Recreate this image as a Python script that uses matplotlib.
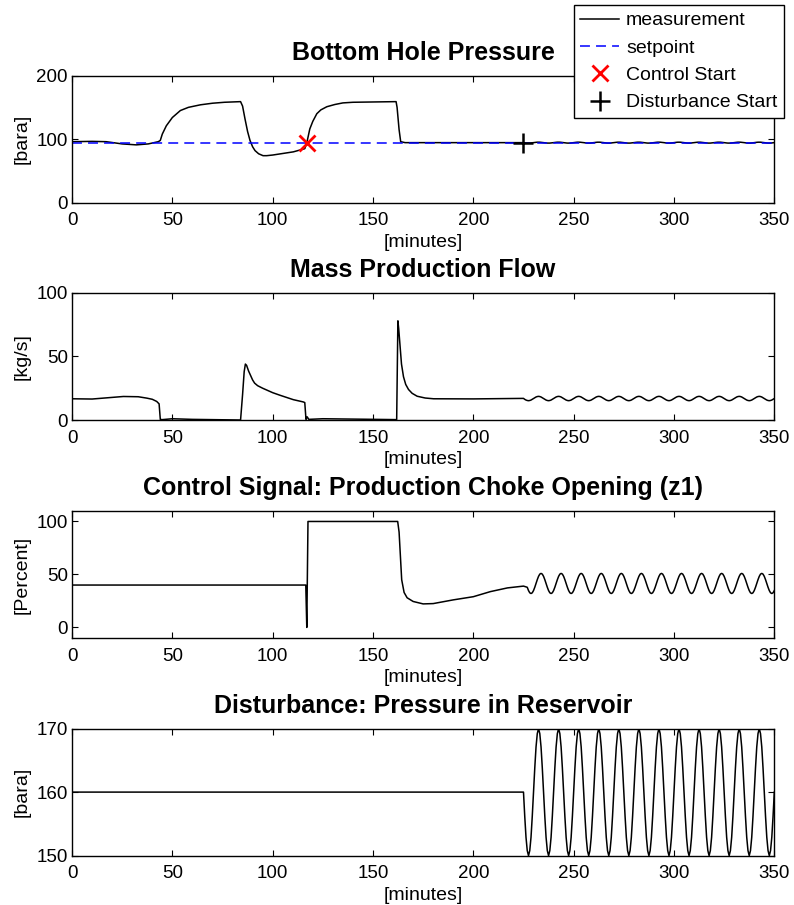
import numpy as np
import matplotlib
matplotlib.use("Agg")
import matplotlib.pyplot as plt

plt.rcParams["font.family"] = ["Liberation Sans", "DejaVu Sans"]

# breakpoints (time in minutes)
bhp_t = [0, 10, 17, 25, 32, 38, 43, 44, 45, 47, 50, 54, 58, 64, 70, 76, 84,
         85, 86.2, 87.5, 88.7, 90, 91.2, 93, 95.2, 97, 100, 105, 110.3, 116,
         117, 118.5, 120, 122, 124, 127, 131, 135, 140, 150, 161.5,
         162, 163, 163.8, 166, 225]
bhp_v = [96, 96.5, 96, 92.5, 91, 92.5, 96, 98, 108, 121, 134, 145, 150, 154, 156.5, 158, 159,
         152, 132, 112, 98, 88, 82, 77, 74, 74, 75, 77.5, 80, 85,
         94, 116, 128, 140, 146, 151, 154.5, 157, 158, 158.5, 159,
         150, 115, 96, 94.5, 94.5]
setpoint_t = [0, 350]
setpoint_v = [94, 94]

flow_t = [0, 10, 18, 25.6, 33, 37.3, 40, 42.2, 43.4, 44, 45, 50, 60, 84,
          85, 85.8, 86.4, 87, 88, 89, 90, 91, 92.5, 95, 100, 103.6, 110.3, 115.3, 116,
          116.6, 117.2, 118, 125, 161.8,
          162.4, 162.8, 163.2, 163.6, 164.2, 165.2, 166.3, 167.7, 169.5, 172, 176,
          180.2, 200, 225]
flow_v = [16.7, 16.5, 17.5, 18.5, 18.3, 17.2, 16.3, 14.6, 12.7, 0.5, 0.3, 1, 0.5, 0,
          20, 38, 44, 43, 38.5, 35, 31.5, 29, 27, 25, 21.5, 19.5, 16, 14.2, 13.7,
          0.5, 2.5, 0.5, 1, 0.3,
          78, 72, 64, 56, 44, 34, 28, 24, 21, 18.7, 17.3,
          16.7, 16.6, 17]

choke_t = [0, 116.5, 117, 117.6, 162.3, 163, 163.7, 164.3, 165.5, 167, 170,
           175, 180, 183.5, 190, 200, 208.5, 217, 225]
choke_v = [40, 40, 0, 100, 100, 90, 65, 45, 33, 28, 24.5,
           22.2, 22.5, 23.7, 26, 29, 33.8, 37.3, 39]

dist_t = [0, 225]
dist_v = [160, 160]

# one 10-minute oscillation cycle after the disturbance starts (16 samples, from t=225)
osc_step = 0.625
dist_cycle = [160, 156.2, 152.9, 150.8, 150, 150.8, 152.9, 156.2,
              160, 163.8, 167.1, 169.2, 170, 169.2, 167.1, 163.8]
flow_cycle = [16.9, 16.25, 15.7, 15.35, 15.2, 15.35, 15.7, 16.25,
              16.9, 17.55, 18.1, 18.45, 18.6, 18.45, 18.1, 17.55]
choke_cycle = [48.2, 45.1, 41.5, 37.9, 34.8, 32.7, 32, 32.7,
               34.8, 37.9, 41.5, 45.1, 48.2, 50.3, 51, 50.3]
bhp_cycle = [94.5, 94.2, 94.0, 93.8, 93.8, 93.8, 94.0, 94.2,
             94.5, 94.8, 95.0, 95.2, 95.2, 95.2, 95.0, 94.8]

control_start = (117, 94)
disturb_start = (225, 94)

osc_t = np.arange(225, 350 + 1e-9, osc_step)
n = len(osc_t)


def join(t, v, cycle, skip=1):
    return (np.concatenate([t, osc_t[skip:]]),
            np.concatenate([v, np.resize(cycle, n)[skip:]]))


bhp_T, bhp_V = join(bhp_t, bhp_v, bhp_cycle)
flow_T, flow_V = join(flow_t, flow_v, flow_cycle)
choke_T, choke_V = join(choke_t, choke_v, choke_cycle, skip=3)
dist_T, dist_V = join(dist_t, dist_v, dist_cycle)

fig = plt.figure(figsize=(7.94, 9.05), dpi=100)
W = 0.8845
L = 0.0907
H = 0.1405
bottoms = [0.776, 0.5359, 0.295, 0.0545]
axs = [fig.add_axes([L, b, W, H]) for b in bottoms]

lw = 1.1
ax = axs[0]
ax.plot(bhp_T, bhp_V, color="k", lw=lw, label="measurement")
ax.plot(setpoint_t, setpoint_v, color="b", lw=lw, ls=(0, (6.5, 4)), label="setpoint")
ax.plot(*control_start, "x", color="r", ms=11, mew=2, label="Control Start")
ax.plot(*disturb_start, "+", color="k", ms=14, mew=1.8, label="Disturbance Start")
ax.set_ylim(0, 200)
ax.set_yticks([0, 100, 200])
ax.set_ylabel("[bara]")
ax.set_title("Bottom Hole Pressure")

ax = axs[1]
ax.plot(flow_T, flow_V, color="k", lw=lw)
ax.set_ylim(0, 100)
ax.set_yticks([0, 50, 100])
ax.set_ylabel("[kg/s]")
ax.set_title("Mass Production Flow")

ax = axs[2]
ax.plot(choke_T, choke_V, color="k", lw=lw)
ax.set_ylim(-10, 110)
ax.set_yticks([0, 50, 100])
ax.set_ylabel("[Percent]")
ax.set_title("Control Signal: Production Choke Opening (z1)")

ax = axs[3]
ax.plot(dist_T, dist_V, color="k", lw=lw)
ax.set_ylim(150, 170)
ax.set_yticks([150, 160, 170])
ax.set_ylabel("[bara]")
ax.set_title("Disturbance: Pressure in Reservoir")

for ax in axs:
    ax.set_xlim(0, 350)
    ax.set_xticks(np.arange(0, 351, 50))
    ax.set_xlabel("[minutes]", fontsize=14, labelpad=3)
    ax.set_title(ax.get_title(), fontsize=18, fontweight="bold", pad=11.5)
    ax.yaxis.label.set_fontsize(14)
    ax.tick_params(direction="in", top=True, right=True, length=4,
                   width=0.8, labelsize=13.5)
    ax.tick_params(axis="x", pad=7)
    ax.tick_params(axis="y", pad=3)
    for s in ax.spines.values():
        s.set_linewidth(1.0)

leg = axs[0].legend(loc="upper right", bbox_to_anchor=(0.9878, 0.9945),
                    bbox_transform=fig.transFigure, borderaxespad=0,
                    fancybox=False, edgecolor="k", framealpha=1,
                    fontsize=14, handlelength=2.0, handletextpad=0.35,
                    labelspacing=0.5, borderpad=0.35)
leg.get_frame().set_linewidth(1.0)

fig.savefig("out.png", dpi=100)
